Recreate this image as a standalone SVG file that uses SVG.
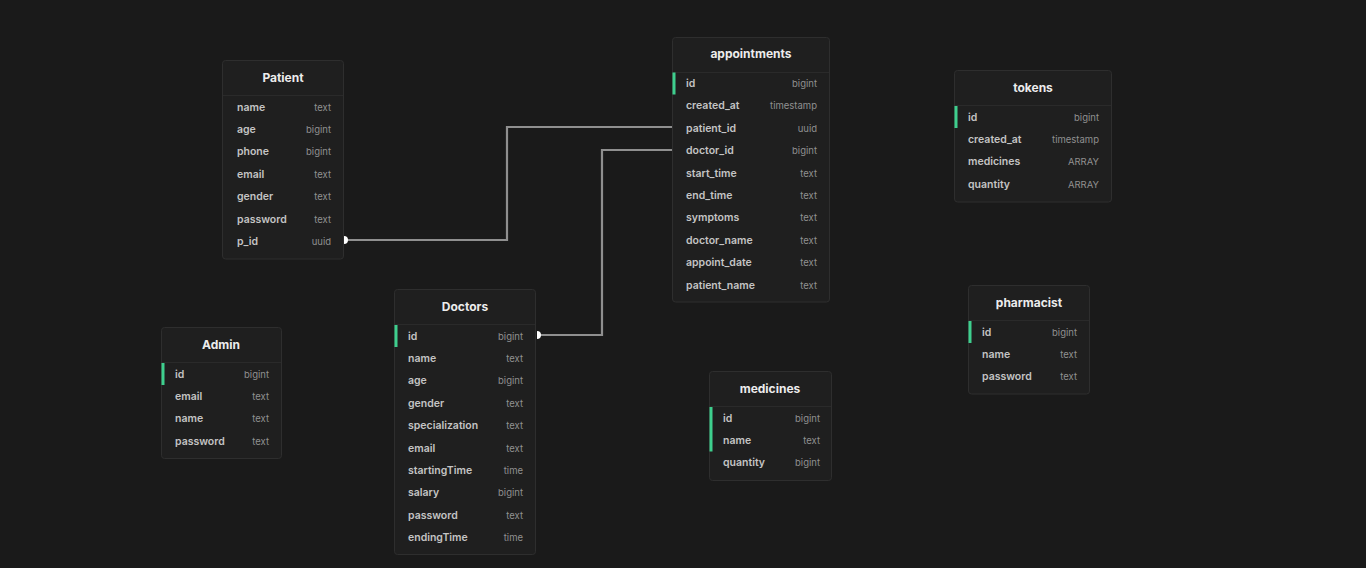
<svg xmlns="http://www.w3.org/2000/svg" width="1366" height="568" viewBox="0 0 1366 568">
<style>
.bg{fill:#1a1a1a}
.tbl{fill:#1f1f1f;stroke:#2e2e2e;stroke-width:1}
.sep{stroke:#2a2a2a;stroke-width:1}
.title{font-family:Inter,"Noto Sans",sans-serif;font-size:12px;font-weight:700;fill:#ececec;text-anchor:middle;dominant-baseline:central}
.col{font-family:Inter,"Noto Sans",sans-serif;font-size:10.5px;font-weight:600;fill:#c4c4c4;dominant-baseline:central}
.typ{font-family:Inter,"Noto Sans",sans-serif;font-size:9.5px;font-weight:400;fill:#909090;text-anchor:end;dominant-baseline:central}
.pk{fill:#3ecf8e}
.conn{fill:none;stroke:#8f8f8f;stroke-width:2.2}
.cap{fill:#ffffff}
</style>
<rect class="bg" x="0" y="0" width="1366" height="568"/>

<g id="connectors">
<path class="conn" d="M344,240 H507 V127 H672"/>
<path class="conn" d="M537,335 H602 V150 H672"/>
<path class="cap" d="M344,236 a4,4 0 0 1 0,8 Z"/>
<path class="cap" d="M537,331 a4,4 0 0 1 0,8 Z"/>
</g>

<g id="Patient">
<rect class="tbl" x="222.5" y="60.5" width="121" height="198.5" rx="3"/>
<line class="sep" x1="223" y1="95.5" x2="343" y2="95.5"/>
<text class="title" x="283" y="77">Patient</text>
<text class="col" x="237" y="107">name</text><text class="typ" x="331" y="107">text</text>
<text class="col" x="237" y="129.4">age</text><text class="typ" x="331" y="129.4">bigint</text>
<text class="col" x="237" y="151.8">phone</text><text class="typ" x="331" y="151.8">bigint</text>
<text class="col" x="237" y="174.2">email</text><text class="typ" x="331" y="174.2">text</text>
<text class="col" x="237" y="196.6">gender</text><text class="typ" x="331" y="196.6">text</text>
<text class="col" x="237" y="219">password</text><text class="typ" x="331" y="219">text</text>
<text class="col" x="237" y="241.4">p_id</text><text class="typ" x="331" y="241.4">uuid</text>
</g>

<g id="appointments">
<rect class="tbl" x="672.5" y="37.5" width="157" height="264.5" rx="3"/>
<line class="sep" x1="673" y1="72.5" x2="829" y2="72.5"/>
<text class="title" x="751" y="53">appointments</text>
<rect class="pk" x="672.5" y="72.5" width="3" height="22"/>
<text class="col" x="686" y="83.5">id</text><text class="typ" x="817" y="83.5">bigint</text>
<text class="col" x="686" y="105.9">created_at</text><text class="typ" x="817" y="105.9">timestamp</text>
<text class="col" x="686" y="128.3">patient_id</text><text class="typ" x="817" y="128.3">uuid</text>
<text class="col" x="686" y="150.7">doctor_id</text><text class="typ" x="817" y="150.7">bigint</text>
<text class="col" x="686" y="173.1">start_time</text><text class="typ" x="817" y="173.1">text</text>
<text class="col" x="686" y="195.5">end_time</text><text class="typ" x="817" y="195.5">text</text>
<text class="col" x="686" y="217.9">symptoms</text><text class="typ" x="817" y="217.9">text</text>
<text class="col" x="686" y="240.3">doctor_name</text><text class="typ" x="817" y="240.3">text</text>
<text class="col" x="686" y="262.7">appoint_date</text><text class="typ" x="817" y="262.7">text</text>
<text class="col" x="686" y="285.1">patient_name</text><text class="typ" x="817" y="285.1">text</text>
</g>

<g id="tokens">
<rect class="tbl" x="954.5" y="70.5" width="157" height="131.5" rx="3"/>
<line class="sep" x1="955" y1="105.5" x2="1111" y2="105.5"/>
<text class="title" x="1033" y="87">tokens</text>
<rect class="pk" x="954.5" y="106" width="3" height="22"/>
<text class="col" x="968" y="117">id</text><text class="typ" x="1099" y="117">bigint</text>
<text class="col" x="968" y="139.4">created_at</text><text class="typ" x="1099" y="139.4">timestamp</text>
<text class="col" x="968" y="161.8">medicines</text><text class="typ" x="1099" y="161.8">ARRAY</text>
<text class="col" x="968" y="184.2">quantity</text><text class="typ" x="1099" y="184.2">ARRAY</text>
</g>

<g id="Doctors">
<rect class="tbl" x="394.5" y="289.5" width="141" height="265" rx="3"/>
<line class="sep" x1="395" y1="324.5" x2="535" y2="324.5"/>
<text class="title" x="465" y="306">Doctors</text>
<rect class="pk" x="394.5" y="325" width="3" height="22"/>
<text class="col" x="408" y="336">id</text><text class="typ" x="523" y="336">bigint</text>
<text class="col" x="408" y="358.4">name</text><text class="typ" x="523" y="358.4">text</text>
<text class="col" x="408" y="380.8">age</text><text class="typ" x="523" y="380.8">bigint</text>
<text class="col" x="408" y="403.2">gender</text><text class="typ" x="523" y="403.2">text</text>
<text class="col" x="408" y="425.6">specialization</text><text class="typ" x="523" y="425.6">text</text>
<text class="col" x="408" y="448">email</text><text class="typ" x="523" y="448">text</text>
<text class="col" x="408" y="470.4">startingTime</text><text class="typ" x="523" y="470.4">time</text>
<text class="col" x="408" y="492.8">salary</text><text class="typ" x="523" y="492.8">bigint</text>
<text class="col" x="408" y="515.2">password</text><text class="typ" x="523" y="515.2">text</text>
<text class="col" x="408" y="537.6">endingTime</text><text class="typ" x="523" y="537.6">time</text>
</g>

<g id="Admin">
<rect class="tbl" x="161.5" y="327.5" width="120" height="131" rx="3"/>
<line class="sep" x1="162" y1="362.5" x2="281" y2="362.5"/>
<text class="title" x="221" y="344">Admin</text>
<rect class="pk" x="161.5" y="363" width="3" height="22"/>
<text class="col" x="175" y="374">id</text><text class="typ" x="269" y="374">bigint</text>
<text class="col" x="175" y="396.4">email</text><text class="typ" x="269" y="396.4">text</text>
<text class="col" x="175" y="418.8">name</text><text class="typ" x="269" y="418.8">text</text>
<text class="col" x="175" y="441.2">password</text><text class="typ" x="269" y="441.2">text</text>
</g>

<g id="medicines">
<rect class="tbl" x="709.5" y="371.5" width="122" height="109" rx="3"/>
<line class="sep" x1="710" y1="406.5" x2="831" y2="406.5"/>
<text class="title" x="770" y="388">medicines</text>
<rect class="pk" x="709.5" y="407" width="3" height="44.5"/>
<text class="col" x="723" y="418">id</text><text class="typ" x="820" y="418">bigint</text>
<text class="col" x="723" y="440.4">name</text><text class="typ" x="820" y="440.4">text</text>
<text class="col" x="723" y="462.8">quantity</text><text class="typ" x="820" y="462.8">bigint</text>
</g>

<g id="pharmacist">
<rect class="tbl" x="968.5" y="285.5" width="121" height="108.5" rx="3"/>
<line class="sep" x1="969" y1="320.5" x2="1089" y2="320.5"/>
<text class="title" x="1029" y="302">pharmacist</text>
<rect class="pk" x="968.5" y="321" width="3" height="22"/>
<text class="col" x="982" y="332">id</text><text class="typ" x="1077" y="332">bigint</text>
<text class="col" x="982" y="354.4">name</text><text class="typ" x="1077" y="354.4">text</text>
<text class="col" x="982" y="376.8">password</text><text class="typ" x="1077" y="376.8">text</text>
</g>
</svg>
